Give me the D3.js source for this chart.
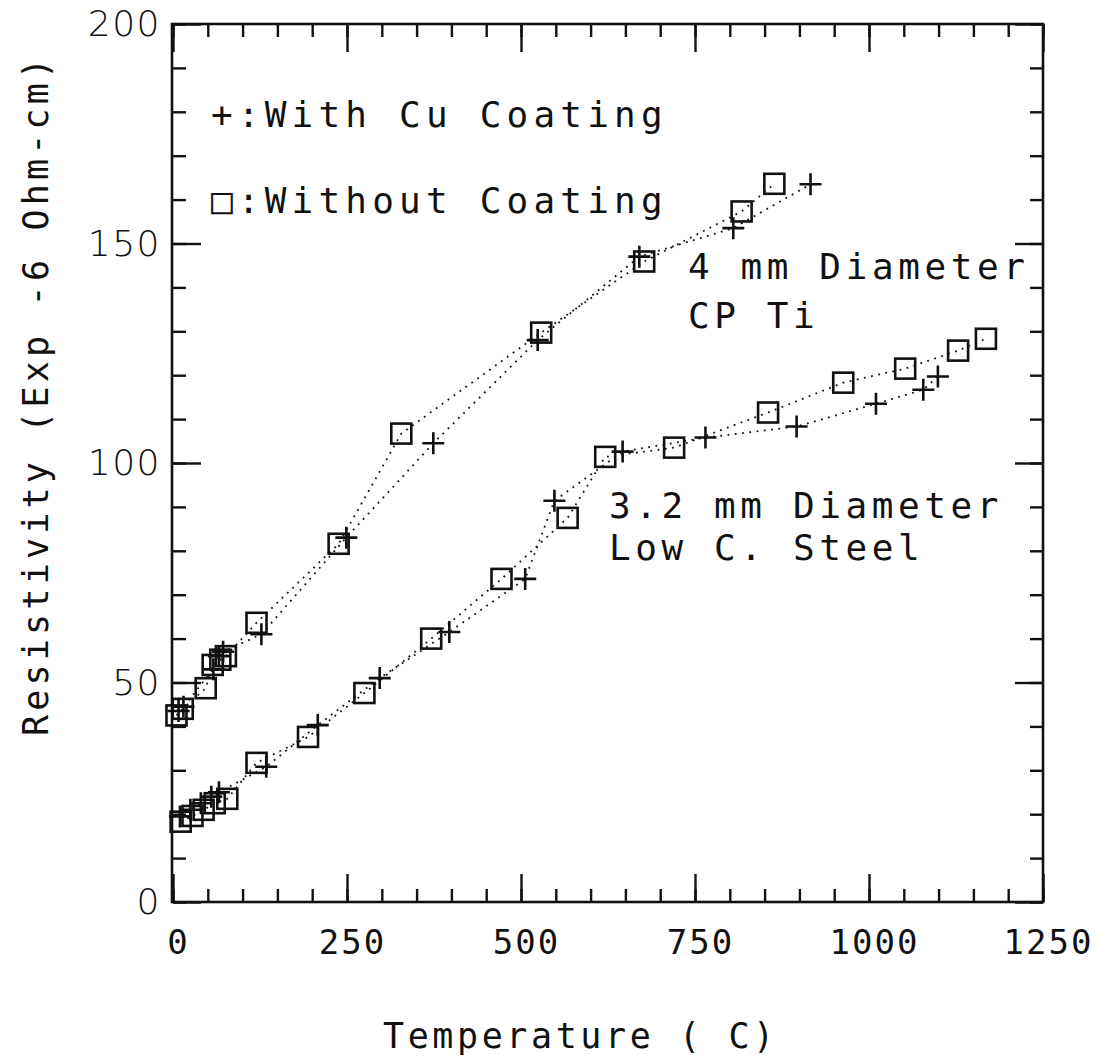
<!DOCTYPE html>
<html>
<head>
<meta charset="utf-8">
<script src="https://cdn.jsdelivr.net/npm/d3@7"></script>
<style>
  html, body { margin: 0; padding: 0; background: #fff; }
  svg { display: block; }
  .mono { font-family: "DejaVu Sans Mono", "Liberation Mono", monospace; fill: #111; }
</style>
</head>
<body>
<svg id="chart" width="1099" height="1062"></svg>
<script>
// Resistivity vs temperature, CP Ti wire (4 mm) and low-carbon steel wire (3.2 mm),
// with and without copper coating.

// 4 mm CP Ti, with Cu coating (+)
const tiCuTemp = [8, 15, 58, 66, 72, 127, 249, 374, 524, 670, 805, 916];
const tiCuRes  = [43.5, 44.5, 53, 56, 57, 61, 83, 104.5, 128, 147, 153.5, 163.5];

// 4 mm CP Ti, without coating (squares)
const tiBareTemp = [5, 14, 47, 57, 68, 76, 120, 238, 328, 529, 677, 817, 864];
const tiBareRes  = [42.5, 44, 48.7, 54, 55.2, 56, 63.6, 81.6, 106.7, 129.7, 145.9, 157.3, 163.6];

// 3.2 mm low C. steel, with Cu coating (+)
const stCuTemp = [10, 25, 40, 55, 66, 134, 208, 297, 397, 506, 548, 646, 765, 896, 1010, 1078, 1099];
const stCuRes  = [19.5, 21, 22.5, 24, 25, 30.8, 40.3, 51, 61.5, 73.6, 91.4, 102.6, 105.8, 108.3, 113.5, 116.7, 119.7];

// 3.2 mm low C. steel, without coating (squares)
const stBareTemp = [11, 28, 44, 60, 78, 120, 194, 275, 371, 472, 567, 621, 720, 855, 963, 1052, 1128, 1168];
const stBareRes  = [18.3, 19.6, 21, 22.5, 23.5, 31.7, 37.6, 47.6, 60, 73.6, 87.5, 101.4, 103.5, 111.5, 118.3, 121.5, 125.6, 128.3];

// Axis ticks
const xMajorTicks = [0, 250, 500, 750, 1000, 1250];
const xMinorTicks = d3.range(0, 1251, 50);
const yMajorTicks = [0, 50, 100, 150, 200];
const yMinorTicks = d3.range(0, 201, 10);

const legendLines = ["+:With Cu Coating", "\u25A1:Without Coating"];
const tiLabel = ["4 mm Diameter", "CP Ti"];
const steelLabel = ["3.2 mm Diameter", "Low C. Steel"];
const xTitle = "Temperature ( C)";
const yTitle = "Resistivity (Exp -6 Ohm-cm)";

const svg = d3.select("#chart");
const plotL = 173, plotR = 1043, plotT = 24, plotB = 902;

const x = d3.scaleLinear().domain([0, 1250]).range([plotL, plotR]);
const y = d3.scaleLinear().domain([0, 200]).range([plotB, plotT]);

const ink = "#111";

// Inward ticks on all four sides
function styleAxis(g) {
  g.select(".domain").remove();
  g.selectAll(".tick line").attr("stroke", ink).attr("stroke-width", 2.4);
}
const majorLen = 28, minorLen = 13;

svg.append("g").attr("transform", `translate(0,${plotB})`)
  .call(d3.axisBottom(x).tickValues(xMinorTicks).tickSize(-minorLen).tickFormat(""))
  .call(styleAxis);
svg.append("g").attr("transform", `translate(0,${plotT})`)
  .call(d3.axisTop(x).tickValues(xMinorTicks).tickSize(-minorLen).tickFormat(""))
  .call(styleAxis);
svg.append("g").attr("transform", `translate(${plotL},0)`)
  .call(d3.axisLeft(y).tickValues(yMinorTicks).tickSize(-minorLen).tickFormat(""))
  .call(styleAxis);
svg.append("g").attr("transform", `translate(${plotR},0)`)
  .call(d3.axisRight(y).tickValues(yMinorTicks).tickSize(-minorLen).tickFormat(""))
  .call(styleAxis);

// Major ticks with labels (bottom, left) and without (top, right)
const xLab = svg.append("g").attr("transform", `translate(0,${plotB})`)
  .call(d3.axisBottom(x).tickValues(xMajorTicks).tickSize(-majorLen).tickPadding(28).tickFormat(d3.format("d")))
  .call(styleAxis);
xLab.selectAll(".tick text")
  .attr("class", "mono")
  .attr("font-size", 34).attr("letter-spacing", 2)
  .attr("dx", 5)
  .attr("fill", ink);

svg.append("g").attr("transform", `translate(0,${plotT})`)
  .call(d3.axisTop(x).tickValues(xMajorTicks).tickSize(-majorLen).tickFormat(""))
  .call(styleAxis);

const yLab = svg.append("g").attr("transform", `translate(${plotL},0)`)
  .call(d3.axisLeft(y).tickValues(yMajorTicks).tickSize(-majorLen).tickPadding(12).tickFormat(d3.format("d")))
  .call(styleAxis);
yLab.selectAll(".tick text")
  .attr("font-family", "'DejaVu Sans', 'Liberation Sans', sans-serif")
  .attr("font-size", 36).attr("font-weight", 300)
  .attr("letter-spacing", 1.5)
  .attr("fill", ink);

svg.append("g").attr("transform", `translate(${plotR},0)`)
  .call(d3.axisRight(y).tickValues(yMajorTicks).tickSize(-majorLen).tickFormat(""))
  .call(styleAxis);

// Frame
svg.append("rect")
  .attr("x", plotL - 1).attr("y", plotT).attr("width", plotR - plotL + 1).attr("height", plotB - plotT)
  .attr("fill", "none").attr("stroke", ink).attr("stroke-width", 2.6);

// Series
const series = [
  { t: tiCuTemp, r: tiCuRes, mark: "plus" },
  { t: tiBareTemp, r: tiBareRes, mark: "square" },
  { t: stCuTemp, r: stCuRes, mark: "plus" },
  { t: stBareTemp, r: stBareRes, mark: "square" }
];

const line = d3.line().x(d => x(d[0])).y(d => y(d[1]));

series.forEach(s => {
  const pts = s.t.map((t, i) => [t, s.r[i]]);
  svg.append("path")
    .datum(pts)
    .attr("d", line)
    .attr("fill", "none")
    .attr("stroke", ink)
    .attr("stroke-width", 1.8)
    .attr("stroke-dasharray", "1.8,5.5");

  const g = svg.append("g");
  if (s.mark === "square") {
    g.selectAll("rect").data(pts).join("rect")
      .attr("x", d => x(d[0]) - 10).attr("y", d => y(d[1]) - 10)
      .attr("width", 20).attr("height", 20)
      .attr("fill", "none").attr("stroke", ink).attr("stroke-width", 2.6);
  } else {
    g.selectAll("path").data(pts).join("path")
      .attr("d", d => {
        const cx = x(d[0]), cy = y(d[1]);
        return `M${cx - 11},${cy}H${cx + 11}M${cx},${cy - 11}V${cy + 11}`;
      })
      .attr("fill", "none").attr("stroke", ink).attr("stroke-width", 2.6);
  }
});

// Text blocks
function textBlock(lines, x0, baselines, spacing) {
  lines.forEach((s, i) => {
    svg.append("text").attr("class", "mono")
      .attr("x", x0).attr("y", baselines[i])
      .attr("font-size", 36).attr("letter-spacing", spacing)
      .text(s);
  });
}
textBlock(legendLines, 211, [127, 213], 5.2);
textBlock(tiLabel, 688, [279, 328], 4.6);
textBlock(steelLabel, 609, [518, 560], 4.6);

// Axis titles
svg.append("text").attr("class", "mono")
  .attr("x", 383).attr("y", 1048)
  .attr("font-size", 35).attr("letter-spacing", 3.6)
  .text(xTitle);

svg.append("text").attr("class", "mono")
  .attr("transform", "translate(48,736) rotate(-90)")
  .attr("font-size", 35).attr("letter-spacing", 4.2)
  .text(yTitle);
</script>
</body>
</html>
